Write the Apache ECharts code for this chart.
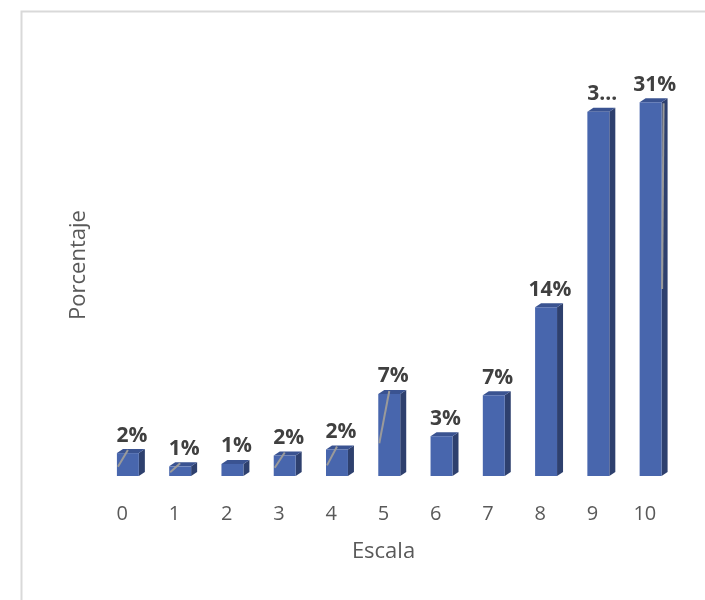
<!DOCTYPE html>
<html>
<head>
<meta charset="utf-8">
<script src="https://cdn.jsdelivr.net/npm/echarts@6/dist/echarts.min.js"></script>
<style>html,body{margin:0;padding:0;background:#fff;}#c{width:705px;height:600px;}</style>
</head>
<body>
<div id="c"></div>
<script>
const categories = ['0','1','2','3','4','5','6','7','8','9','10'];
const values = [1.9, 0.8, 1.0, 1.7, 2.2, 6.8, 3.3, 6.7, 14.0, 30.2, 31.0];
const valueLabels = ['2%','1%','1%','2%','2%','7%','3%','7%','14%','3…','31%'];
const leaderFront = [0, 1, 3, 4, 5];
const leaderSide = [10];
const xName = 'Escala';
const yName = 'Porcentaje';

const FONT = '"Open Sans", "Noto Sans", sans-serif';
const chart = echarts.init(document.getElementById('c'), null, {renderer: 'canvas'});

function renderItem(params, api) {
  const idx = api.value(0);
  const val = api.value(1);
  const base = api.coord([idx, 0]);
  const top = api.coord([idx, val]);
  const cw = api.size([1, 0])[0];
  const bw = cw * 0.42;
  const off = cw * 0.11;
  const dx = 6, dy = 4;
  const x0 = base[0] - bw / 2 + off, x1 = x0 + bw;
  const yT = top[1], yB = base[1];
  const h = yB - yT;
  const children = [
    {type: 'polygon', shape: {points: [[x1, yB], [x1, yT], [x1 + dx, yT - dy], [x1 + dx, yB - dy]]},
     style: {fill: '#2e406e'}},
    {type: 'polygon', shape: {points: [[x0, yT], [x1, yT], [x1 + dx, yT - dy], [x0 + dx, yT - dy]]},
     style: {fill: '#3a5391'}},
    {type: 'rect', shape: {x: x0, y: yT, width: bw, height: h},
     style: {fill: '#4866ad'}}
  ];
  if (leaderFront.indexOf(idx) >= 0) {
    children.push({type: 'line', shape: {x1: x0 + 1, y1: yT + h * 0.6, x2: x0 + 11, y2: yT - 3},
      style: {stroke: '#9a9a9a', lineWidth: 2}});
  }
  if (leaderSide.indexOf(idx) >= 0) {
    children.push({type: 'line', shape: {x1: x1 + 0.5, y1: yT + h * 0.5, x2: x1 + 2, y2: yT + 1},
      style: {stroke: '#9a9a9a', lineWidth: 2}});
  }
  children.push({type: 'text', style: {
    text: valueLabels[idx], x: (x0 + x1 + dx) / 2 + 1, y: yT - 7,
    align: 'center', verticalAlign: 'bottom',
    font: 'bold 21px ' + FONT, fill: '#404040'
  }});
  return {type: 'group', children: children};
}

chart.setOption({
  animation: false,
  backgroundColor: '#ffffff',
  graphic: [{
    type: 'rect', left: 19, top: 9, z: -10, silent: true,
    shape: {width: 800, height: 700},
    style: {fill: 'none', stroke: '#d9d9d9', lineWidth: 2}
  }],
  grid: {left: 96, right: 34, top: 54, bottom: 124, containLabel: false},
  xAxis: {
    type: 'category', data: categories,
    axisLine: {show: false}, axisTick: {show: false},
    axisLabel: {color: '#595959', fontSize: 20, fontFamily: FONT, margin: 28},
    name: xName, nameLocation: 'middle', nameGap: 65,
    nameTextStyle: {color: '#595959', fontSize: 22, fontFamily: FONT}
  },
  yAxis: {
    type: 'value', min: 0, max: 35,
    axisLine: {show: false}, axisTick: {show: false}, axisLabel: {show: false},
    splitLine: {show: false},
    name: yName, nameLocation: 'middle', nameRotate: 90, nameGap: 6,
    nameTextStyle: {color: '#595959', fontSize: 22, fontFamily: FONT}
  },
  series: [{
    type: 'custom',
    renderItem: renderItem,
    data: values.map((v, i) => [i, v]),
    encode: {x: 0, y: 1}
  }]
});
</script>
</body>
</html>
